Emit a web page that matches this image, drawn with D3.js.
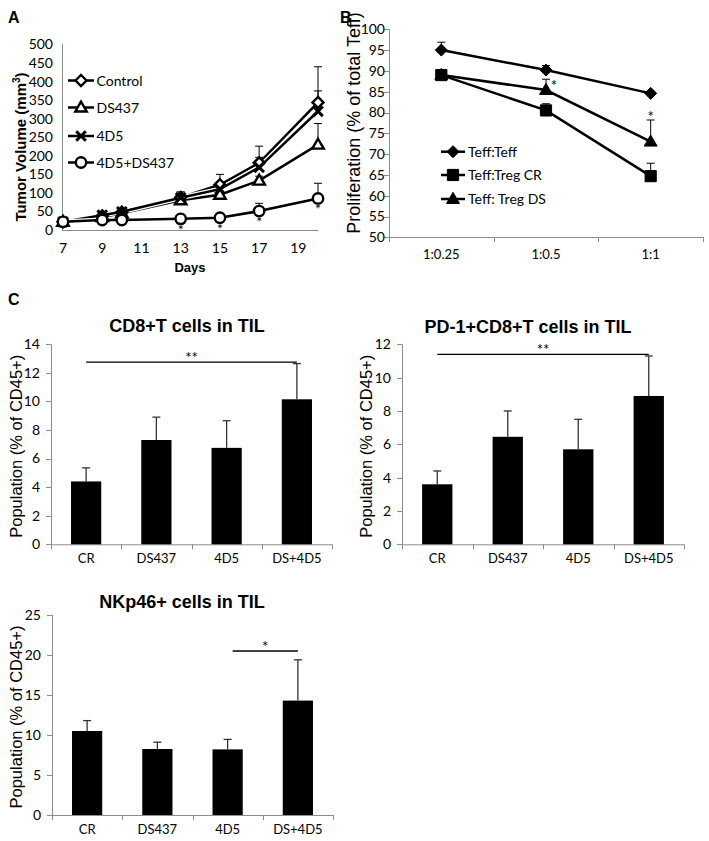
<!DOCTYPE html>
<html><head><meta charset="utf-8">
<script src="https://cdn.jsdelivr.net/npm/d3@7"></script>
<style>body{margin:0;background:#fff} svg{display:block}</style>
</head><body>
<svg id="c" width="709" height="841"></svg>
<script>
// ---------------- DATA ----------------
// Panel A: tumor volume
const days = [7, 9, 10, 13, 15, 17, 20];
const dayTicks = [7, 9, 11, 13, 15, 17, 19];
const volumeTicks = [0, 50, 100, 150, 200, 250, 300, 350, 400, 450, 500];
const tumorSeriesNames = ["Control", "DS437", "4D5", "4D5+DS437"];
const volControl = [22, 38, 48, 88, 122, 181, 344];
const volDS437   = [22, 35, 45, 80, 95, 133, 230];
const vol4D5     = [22, 40, 49, 87, 110, 169, 320];
const volCombo   = [22, 27, 27, 30, 33, 51, 85];
const errControl = [2, 4, 5, 15, 28, 45, 96];
const errDS437   = [2, 3, 4, 8, 10, 12, 57];
const err4D5     = [2, 4, 5, 10, 14, 27, 55];
const errCombo   = [2, 3, 3, 4, 5, 21, 41];
const tumorStarDays = [13, 15, 17, 20];

// Panel B: proliferation
const ratios = ["1:0.25", "1:0.5", "1:1"];
const prolifTicks = [50, 55, 60, 65, 70, 75, 80, 85, 90, 95, 100];
const prolifSeriesNames = ["Teff:Teff", "Teff:Treg CR", "Teff: Treg DS"];
const profTeff = [95.0, 90.2, 84.6];
const profCR   = [89.0, 80.5, 64.7];
const profDS   = [89.0, 85.4, 73.0];
const errTeff  = [1.9, 1.1, 0];
const errCR    = [0, 1.6, 3.1];
const errDS    = [0, 2.6, 5.2];
const prolifStars = ["1:0.5", "1:1"];

// Panel C: TIL populations
const groups = ["CR", "DS437", "4D5", "DS+4D5"];
const cd8    = [4.4, 7.3, 6.75, 10.15];
const cd8Err = [0.95, 1.6, 1.9, 2.5];
const pd1    = [3.6, 6.45, 5.7, 8.9];
const pd1Err = [0.8, 1.55, 1.8, 2.4];
const nk     = [10.5, 8.25, 8.2, 14.3];
const nkErr  = [1.3, 0.85, 1.25, 5.1];
const cd8Ticks = [0, 2, 4, 6, 8, 10, 12, 14];
const pd1Ticks = [0, 2, 4, 6, 8, 10, 12];
const nkTicks  = [0, 5, 10, 15, 20, 25];

// ---------------- DRAWING ----------------
const svg = d3.select("#c");
const TICKF = "Lato, 'Open Sans', sans-serif";
const TITLEF = "'Liberation Sans', Arial, sans-serif";
const GREY = "#8c8c8c";

function markerPath(type, s) {
  const p = d3.path();
  if (type === "circle") { p.moveTo(s, 0); p.arc(0, 0, s, 0, 2 * Math.PI); p.closePath(); }
  else if (type === "diamond") { p.moveTo(0, -s); p.lineTo(s, 0); p.lineTo(0, s); p.lineTo(-s, 0); p.closePath(); }
  else if (type === "square") { p.rect(-s, -s, 2 * s, 2 * s); }
  else if (type === "triangle") { const h = s * 1.8; p.moveTo(0, -h * 0.6); p.lineTo(h * 0.58, h * 0.4); p.lineTo(-h * 0.58, h * 0.4); p.closePath(); }
  else if (type === "x") { p.moveTo(-s, -s); p.lineTo(s, s); p.moveTo(-s, s); p.lineTo(s, -s); }
  return p.toString();
}
function drawMarker(g, type, x, y, filled, s) {
  if (type === "x") {
    g.append("path").attr("d", markerPath("x", s)).attr("transform", `translate(${x},${y})`)
      .attr("stroke", "#000").attr("stroke-width", 3).attr("fill", "none");
  } else {
    g.append("path").attr("d", markerPath(type, s)).attr("transform", `translate(${x},${y})`)
      .attr("fill", filled ? "#000" : "#fff").attr("stroke", "#000").attr("stroke-width", filled ? 1 : 2.4);
  }
}

// ---------- Panel A ----------
(function () {
  const g = svg.append("g");
  const x = d3.scaleLinear().domain([7, 20]).range([63, 318]);
  const y = d3.scaleLinear().domain([0, 500]).range([230, 44.5]);
  g.append("line").attr("x1", 62.5).attr("x2", 62.5).attr("y1", 44).attr("y2", 230).attr("stroke", GREY);
  g.append("line").attr("x1", 62).attr("x2", 318).attr("y1", 230.5).attr("y2", 230.5).attr("stroke", GREY);
  g.selectAll(".yt").data(volumeTicks).enter().append("text")
    .attr("x", 53).attr("y", d => y(d)).attr("dy", "0.35em").attr("text-anchor", "end")
    .attr("font-family", TICKF).attr("font-size", 14).text(d => d);
  g.selectAll(".xt").data(dayTicks).enter().append("text")
    .attr("x", d => x(d)).attr("y", 253).attr("text-anchor", "middle")
    .attr("font-family", TICKF).attr("font-size", 14).text(d => d);
  g.append("text").attr("x", 190).attr("y", 272).attr("text-anchor", "middle")
    .attr("font-family", TITLEF).attr("font-weight", "bold").attr("font-size", 13).text("Days");
  const yt = g.append("text").attr("transform", "translate(26,147) rotate(-90)").attr("text-anchor", "middle")
    .attr("font-family", TITLEF).attr("font-weight", "bold").attr("font-size", 15);
  yt.append("tspan").text("Tumor Volume (mm");
  yt.append("tspan").attr("font-size", 10).attr("dy", -6).text("3");
  yt.append("tspan").attr("dy", 6).text(")");
  g.append("text").attr("x", 8).attr("y", 23).attr("font-family", TITLEF).attr("font-weight", "bold").attr("font-size", 16).text("A");

  const series = [
    { name: tumorSeriesNames[0], v: volControl, e: errControl, m: "diamond", s: 5.5 },
    { name: tumorSeriesNames[1], v: volDS437, e: errDS437, m: "triangle", s: 5.5 },
    { name: tumorSeriesNames[2], v: vol4D5, e: err4D5, m: "x", s: 4.8 },
    { name: tumorSeriesNames[3], v: volCombo, e: errCombo, m: "circle", s: 5.2 }
  ];
  const line = d3.line().x((d, i) => x(days[i])).y(d => y(d));
  series.forEach(s => {
    g.append("path").attr("d", line(s.v)).attr("fill", "none").attr("stroke", "#fff").attr("stroke-width", 5);
    g.append("path").attr("d", line(s.v)).attr("fill", "none").attr("stroke", "#000").attr("stroke-width", 2.5);
  });
  series.forEach(s => {
    s.v.forEach((v, i) => {
      const cx = x(days[i]), top = y(v + s.e[i]);
      g.append("line").attr("x1", cx).attr("x2", cx).attr("y1", y(v)).attr("y2", top).attr("stroke", "#000").attr("stroke-width", 1);
      g.append("line").attr("x1", cx - 4).attr("x2", cx + 4).attr("y1", top).attr("y2", top).attr("stroke", "#000").attr("stroke-width", 1);
    });
  });
  series.forEach(s => s.v.forEach((v, i) => drawMarker(g, s.m, x(days[i]), y(v), false, s.s)));
  tumorStarDays.forEach(d => {
    const i = days.indexOf(d);
    g.append("text").attr("x", x(d)).attr("y", y(volCombo[i]) + 16).attr("text-anchor", "middle")
      .attr("font-family", TICKF).attr("font-size", 14).text("*");
  });
  // legend
  const ly = [80.5, 107.5, 136, 162.5];
  series.forEach((s, i) => {
    g.append("line").attr("x1", 68).attr("x2", 94).attr("y1", ly[i]).attr("y2", ly[i]).attr("stroke", "#000").attr("stroke-width", 2.5);
    drawMarker(g, s.m, 81, ly[i], false, s.s);
    g.append("text").attr("x", 96.5).attr("y", ly[i]).attr("dy", "0.36em")
      .attr("font-family", TICKF).attr("font-size", 14).text(s.name);
  });
})();

// ---------- Panel B ----------
(function () {
  const g = svg.append("g");
  const x = d3.scaleBand().domain(ratios).range([389, 703]);
  const y = d3.scaleLinear().domain([50, 100]).range([237.3, 29.3]);
  g.append("line").attr("x1", 389.5).attr("x2", 389.5).attr("y1", 29).attr("y2", 237.5).attr("stroke", GREY);
  g.append("line").attr("x1", 389).attr("x2", 703).attr("y1", 237.5).attr("y2", 237.5).attr("stroke", GREY);
  g.selectAll(".ytk").data(prolifTicks).enter().append("line")
    .attr("x1", 384).attr("x2", 389).attr("y1", d => Math.round(y(d)) + 0.5).attr("y2", d => Math.round(y(d)) + 0.5).attr("stroke", GREY);
  const bounds = ratios.map(r => x(r)).concat([703]);
  g.selectAll(".xtk").data(bounds).enter().append("line")
    .attr("x1", d => Math.round(d) + 0.5).attr("x2", d => Math.round(d) + 0.5).attr("y1", 237).attr("y2", 242).attr("stroke", GREY);
  g.selectAll(".yt").data(prolifTicks).enter().append("text")
    .attr("x", 385).attr("y", d => y(d)).attr("dy", "0.35em").attr("text-anchor", "end")
    .attr("font-family", TICKF).attr("font-size", 14).text(d => d);
  g.selectAll(".xt").data(ratios).enter().append("text")
    .attr("x", d => x(d) + x.bandwidth() / 2).attr("y", 259).attr("text-anchor", "middle")
    .attr("font-family", TICKF).attr("font-size", 13).text(d => d);
  g.append("text").attr("transform", "translate(360,123) rotate(-90)").attr("text-anchor", "middle")
    .attr("font-family", TITLEF).attr("font-size", 18).text("Proliferation (% of total Teff)");
  g.append("text").attr("x", 340).attr("y", 23).attr("font-family", TITLEF).attr("font-weight", "bold").attr("font-size", 16).text("B");

  const cx = r => x(r) + x.bandwidth() / 2;
  const series = [
    { name: prolifSeriesNames[0], v: profTeff, e: errTeff, m: "diamond", s: 6 },
    { name: prolifSeriesNames[1], v: profCR, e: errCR, m: "square", s: 5.6 },
    { name: prolifSeriesNames[2], v: profDS, e: errDS, m: "triangle", s: 6.2 }
  ];
  const line = d3.line().x((d, i) => cx(ratios[i])).y(d => y(d));
  series.forEach(s => g.append("path").attr("d", line(s.v)).attr("fill", "none").attr("stroke", "#000").attr("stroke-width", 2.5));
  series.forEach(s => s.v.forEach((v, i) => {
    if (!s.e[i]) return;
    const px = cx(ratios[i]), top = y(v + s.e[i]);
    g.append("line").attr("x1", px).attr("x2", px).attr("y1", y(v)).attr("y2", top).attr("stroke", "#000").attr("stroke-width", 1);
    g.append("line").attr("x1", px - 4).attr("x2", px + 4).attr("y1", top).attr("y2", top).attr("stroke", "#000").attr("stroke-width", 1);
  }));
  series.forEach(s => s.v.forEach((v, i) => drawMarker(g, s.m, cx(ratios[i]), y(v), true, s.s)));
  // stars
  g.append("text").attr("x", cx(prolifStars[0]) + 8).attr("y", y(profDS[1] + errDS[1]) + 12).attr("text-anchor", "middle")
    .attr("font-family", TICKF).attr("font-size", 15).text("*");
  g.append("text").attr("x", cx(prolifStars[1])).attr("y", y(profDS[2] + errDS[2]) + 2).attr("text-anchor", "middle")
    .attr("font-family", TICKF).attr("font-size", 15).text("*");
  const ly = [151.7, 175, 199];
  series.forEach((s, i) => {
    g.append("line").attr("x1", 441).attr("x2", 465).attr("y1", ly[i]).attr("y2", ly[i]).attr("stroke", "#000").attr("stroke-width", 2.5);
    drawMarker(g, s.m, 453, ly[i], true, s.s);
    g.append("text").attr("x", 468).attr("y", ly[i]).attr("dy", "0.36em")
      .attr("font-family", TICKF).attr("font-size", 14).text(s.name);
  });
})();

// ---------- Panel C ----------
function barChart(cfg) {
  const g = svg.append("g");
  const x = d3.scaleBand().domain(groups).range([cfg.x0, cfg.x1]);
  const y = d3.scaleLinear().domain([0, cfg.ticks[cfg.ticks.length - 1]]).range([cfg.yb, cfg.yt]);
  const bw = x.bandwidth() * 0.43;
  const cx = k => x(k) + x.bandwidth() / 2;
  g.append("line").attr("x1", cfg.x0 + 0.5).attr("x2", cfg.x0 + 0.5).attr("y1", cfg.yt).attr("y2", cfg.yb).attr("stroke", GREY);
  g.append("line").attr("x1", cfg.x0).attr("x2", cfg.x1).attr("y1", cfg.yb + 0.5).attr("y2", cfg.yb + 0.5).attr("stroke", GREY);
  g.selectAll(".ytk").data(cfg.ticks).enter().append("line")
    .attr("x1", cfg.x0 - 5).attr("x2", cfg.x0).attr("y1", d => Math.round(y(d)) + 0.5).attr("y2", d => Math.round(y(d)) + 0.5).attr("stroke", GREY);
  const bounds = groups.map(k => x(k)).concat([cfg.x1]);
  g.selectAll(".xtk").data(bounds).enter().append("line")
    .attr("x1", d => Math.round(d) + 0.5).attr("x2", d => Math.round(d) + 0.5).attr("y1", cfg.yb).attr("y2", cfg.yb + 5).attr("stroke", GREY);
  g.selectAll(".yl").data(cfg.ticks).enter().append("text")
    .attr("x", cfg.x0 - 11).attr("y", d => y(d)).attr("dy", "0.35em").attr("text-anchor", "end")
    .attr("font-family", TICKF).attr("font-size", 14).text(d => d);
  g.selectAll(".xl").data(groups).enter().append("text")
    .attr("x", d => cx(d)).attr("y", cfg.yb + 19).attr("text-anchor", "middle")
    .attr("font-family", TICKF).attr("font-size", 13).text(d => d);
  g.selectAll(".bar").data(cfg.values).enter().append("rect")
    .attr("x", (d, i) => cx(groups[i]) - bw / 2).attr("width", bw)
    .attr("y", d => y(d)).attr("height", d => cfg.yb - y(d)).attr("fill", "#000");
  cfg.values.forEach((v, i) => {
    const px = cx(groups[i]), top = y(v + cfg.errs[i]);
    g.append("line").attr("x1", px).attr("x2", px).attr("y1", y(v)).attr("y2", top).attr("stroke", "#333").attr("stroke-width", 1.3);
    g.append("line").attr("x1", px - 4).attr("x2", px + 4).attr("y1", top).attr("y2", top).attr("stroke", "#333").attr("stroke-width", 1.3);
  });
  const sx1 = cx(cfg.sig[0]) + cfg.sigOff, sx2 = cx(cfg.sig[1]), sy = y(cfg.sig[2]);
  g.append("line").attr("x1", sx1).attr("x2", sx2).attr("y1", sy).attr("y2", sy).attr("stroke", "#000").attr("stroke-width", 1.3);
  g.append("text").attr("x", (sx1 + sx2) / 2).attr("y", sy + 1).attr("text-anchor", "middle")
    .attr("font-family", TICKF).attr("font-size", 15).text(cfg.sig[3]);
  g.append("text").attr("x", cfg.titleX).attr("y", cfg.titleY).attr("text-anchor", "middle")
    .attr("font-family", TITLEF).attr("font-weight", "bold").attr("font-size", 18).text(cfg.title);
  g.append("text").attr("transform", `translate(${cfg.ytX},${(cfg.yt + cfg.yb) / 2 + 2}) rotate(-90)`).attr("text-anchor", "middle")
    .attr("font-family", TITLEF).attr("font-size", 16.5).text("Population (% of CD45+)");
}
svg.append("text").attr("x", 8).attr("y", 305).attr("font-family", TITLEF).attr("font-weight", "bold").attr("font-size", 16).text("C");
barChart({ x0: 51, x1: 332, yt: 344.3, yb: 544.3, ticks: cd8Ticks, values: cd8, errs: cd8Err,
  sig: ["CR", "DS+4D5", 12.75, "**"], sigOff: 0, title: "CD8+T cells in TIL", titleX: 187, titleY: 332, ytX: 22 });
barChart({ x0: 402, x1: 684, yt: 344.3, yb: 544.3, ticks: pd1Ticks, values: pd1, errs: pd1Err,
  sig: ["CR", "DS+4D5", 11.4, "**"], sigOff: 0, title: "PD-1+CD8+T cells in TIL", titleX: 528, titleY: 333, ytX: 372 });
barChart({ x0: 52, x1: 333, yt: 615, yb: 815, ticks: nkTicks, values: nk, errs: nkErr,
  sig: ["4D5", "DS+4D5", 20.5, "*"], sigOff: 5, title: "NKp46+ cells in TIL", titleX: 182, titleY: 608, ytX: 22 });
</script>
</body></html>
